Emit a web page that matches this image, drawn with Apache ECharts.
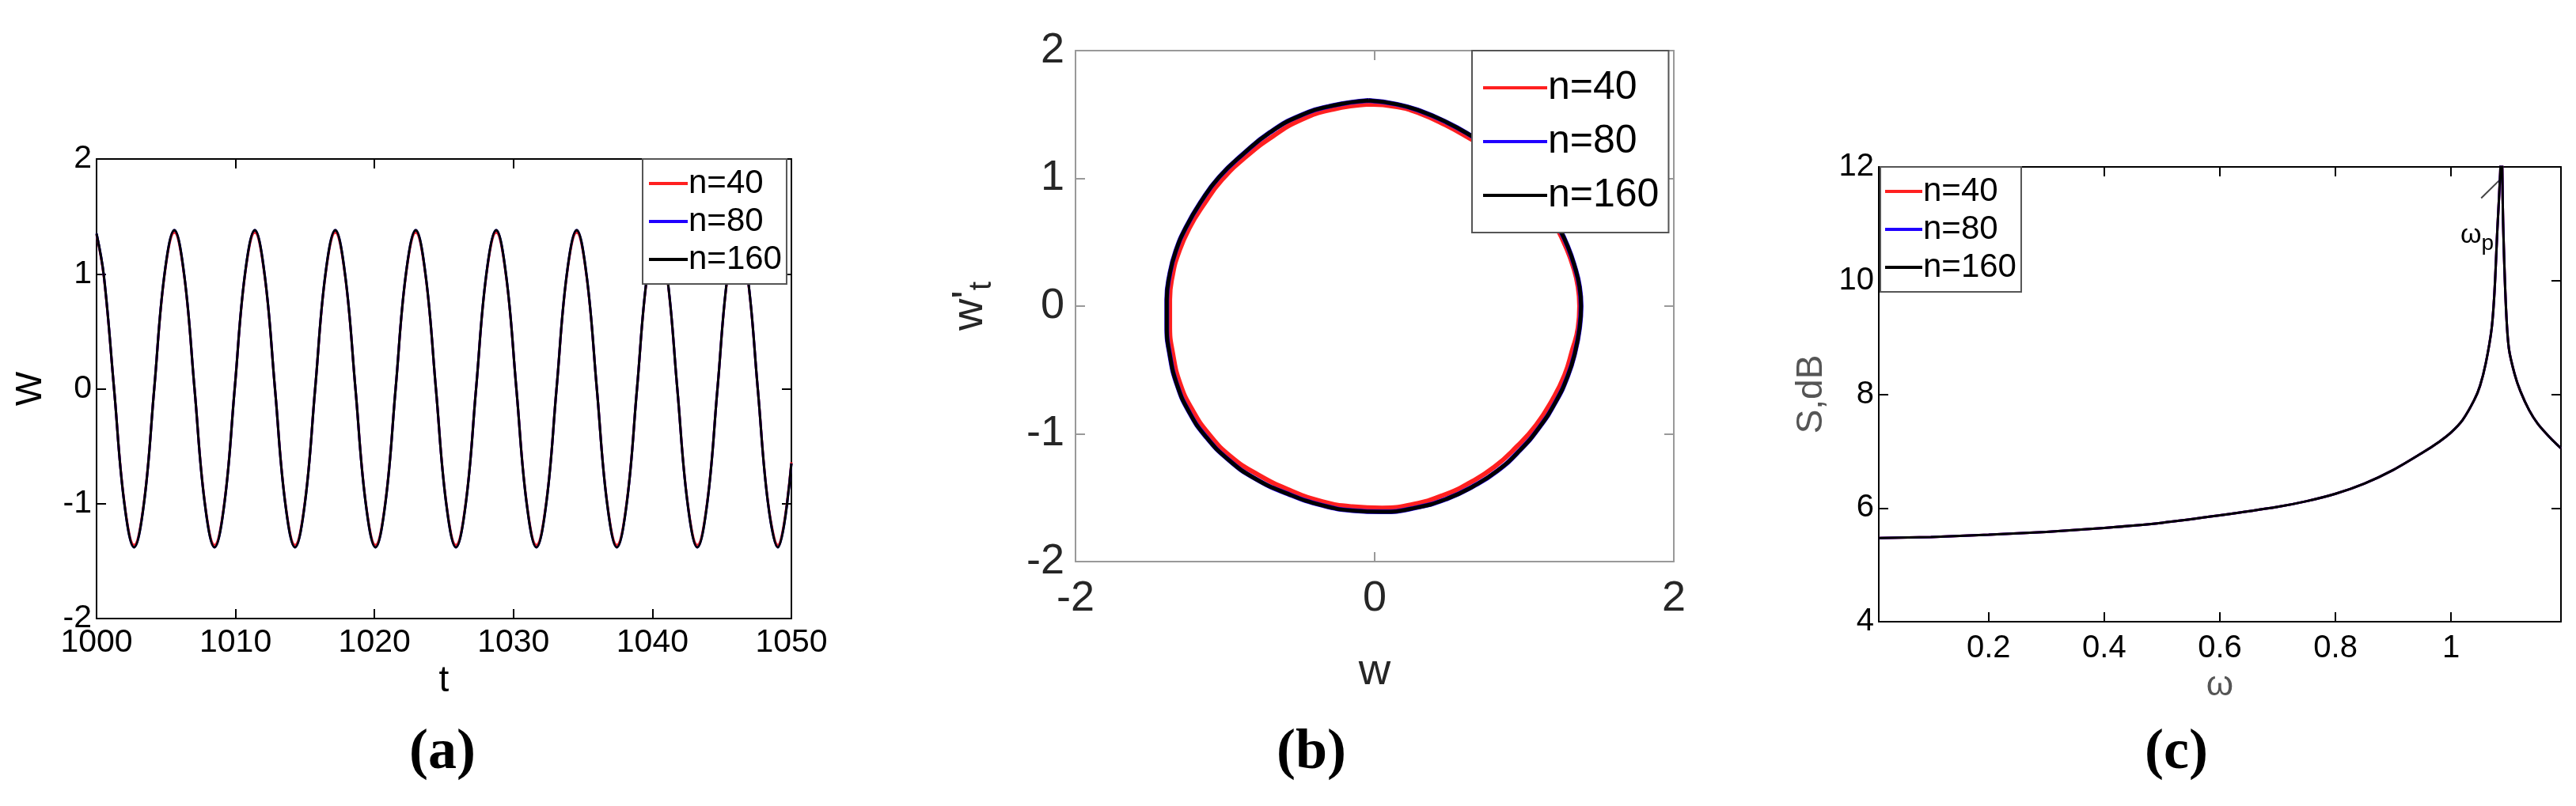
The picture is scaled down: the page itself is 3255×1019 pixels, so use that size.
<!DOCTYPE html>
<html><head><meta charset="utf-8">
<script src="https://cdn.jsdelivr.net/npm/echarts@6/dist/echarts.min.js"></script>
<style>html,body{margin:0;background:#fff}#c{width:3255px;height:1019px}</style>
</head><body><div id="c"></div>
<script>
// ---- Panel (a): time series W(t) ----
const seriesNames = ['n=40','n=80','n=160'];
const seriesColors = ['#ff2020','#2000ff','#000000'];
const aT = [1000,1000.53,1001.26,1001.98,1002.70,1003.43,1004.15,1004.87,1005.60,1006.32,1007.05,1007.77,1008.49,1009.22,1009.94,1010.66,1011.39,1012.11,1012.84,1013.56,1014.28,1015.01,1015.73,1016.45,1017.18,1017.90,1018.63,1019.35,1020.07,1020.80,1021.52,1022.24,1022.97,1023.69,1024.42,1025.14,1025.86,1026.59,1027.31,1028.03,1028.76,1029.48,1030.21,1030.93,1031.65,1032.38,1033.10,1033.82,1034.55,1035.27,1036.00,1036.72,1037.44,1038.17,1038.89,1039.61,1040.34,1041.06,1041.79,1042.51,1043.23,1043.96,1044.68,1045.40,1046.13,1046.85,1047.58,1048.30,1049.02,1050];
const aW = [1.35,0.98,0,-0.98,-1.38,-0.98,0,0.98,1.38,0.98,0,-0.98,-1.38,-0.98,0,0.98,1.38,0.98,0,-0.98,-1.38,-0.98,0,0.98,1.38,0.98,0,-0.98,-1.38,-0.98,0,0.98,1.38,0.98,0,-0.98,-1.38,-0.98,0,0.98,1.38,0.98,0,-0.98,-1.38,-0.98,0,0.98,1.38,0.98,0,-0.98,-1.38,-0.98,0,0.98,1.38,0.98,0,-0.98,-1.38,-0.98,0,0.98,1.38,0.98,0,-0.98,-1.38,-0.65];
const aW40 = [1.34,0.97,0,-0.97,-1.36,-0.97,0,0.97,1.36,0.97,0,-0.97,-1.36,-0.97,0,0.97,1.36,0.97,0,-0.97,-1.36,-0.97,0,0.97,1.36,0.97,0,-0.97,-1.36,-0.97,0,0.97,1.36,0.97,0,-0.97,-1.36,-0.97,0,0.97,1.36,0.97,0,-0.97,-1.36,-0.97,0,0.97,1.36,0.97,0,-0.97,-1.36,-0.97,0,0.97,1.36,0.97,0,-0.97,-1.36,-0.97,0,0.97,1.36,0.97,0,-0.97,-1.36,-0.64];
// ---- Panel (b): phase portrait (w, w't) ----
const bW160 = [-0.04,0.15,0.30,0.48,0.65,0.81,0.96,1.06,1.14,1.22,1.29,1.34,1.37,1.38,1.37,1.34,1.29,1.21,1.10,0.97,0.82,0.66,0.48,0.27,0.05,-0.15,-0.35,-0.58,-0.80,-0.98,-1.13,-1.24,-1.32,-1.37,-1.39,-1.39,-1.37,-1.33,-1.26,-1.16,-1.04,-0.88,-0.70,-0.50,-0.28,-0.04];
const bV160 = [1.61,1.58,1.53,1.44,1.33,1.21,1.07,0.94,0.80,0.64,0.47,0.30,0.15,0,-0.17,-0.36,-0.55,-0.75,-0.95,-1.13,-1.29,-1.41,-1.51,-1.58,-1.61,-1.60,-1.56,-1.47,-1.35,-1.20,-1.02,-0.83,-0.62,-0.38,-0.15,0.05,0.25,0.43,0.62,0.82,1.01,1.19,1.36,1.49,1.57,1.61];
const bW40 = [-0.04,0.15,0.30,0.47,0.64,0.80,0.95,1.05,1.13,1.21,1.28,1.33,1.36,1.37,1.36,1.32,1.27,1.19,1.08,0.95,0.80,0.64,0.46,0.26,0.05,-0.15,-0.35,-0.57,-0.78,-0.96,-1.11,-1.22,-1.30,-1.35,-1.37,-1.37,-1.35,-1.31,-1.24,-1.14,-1.02,-0.86,-0.68,-0.49,-0.28,-0.04];
const bV40 = [1.58,1.56,1.51,1.42,1.31,1.20,1.06,0.93,0.79,0.63,0.46,0.30,0.15,0,-0.17,-0.35,-0.54,-0.73,-0.93,-1.10,-1.26,-1.38,-1.48,-1.55,-1.58,-1.57,-1.53,-1.44,-1.32,-1.18,-1.00,-0.81,-0.61,-0.37,-0.15,0.05,0.25,0.42,0.61,0.80,0.99,1.17,1.33,1.46,1.54,1.58];
// ---- Panel (c): spectrum S(ω), dB ----
const cOmega = [0.01,0.1,0.2,0.3,0.4,0.5,0.6,0.7,0.75,0.8,0.85,0.9,0.95,0.98,1.0,1.02,1.04,1.05,1.06,1.07,1.075,1.08,1.085,1.087,1.09,1.095,1.1,1.11,1.12,1.135,1.15,1.17,1.19];
const cS = [5.47,5.49,5.53,5.58,5.65,5.74,5.87,6.02,6.12,6.25,6.43,6.67,6.97,7.17,7.33,7.55,7.9,8.15,8.55,9.15,9.8,10.9,11.9,12.6,11.0,9.5,8.8,8.35,8.05,7.72,7.48,7.25,7.05];
const cTicksX = [0.2,0.4,0.6,0.8,1];

const F = 'Liberation Sans, Arial, sans-serif';
const chart = echarts.init(document.getElementById('c'), null, {renderer:'canvas'});
const pair = (xs, ys) => xs.map((x,i)=>[x, ys[i]]);

function axes(gi, o) {
  const base = {gridIndex:gi, type:'value', min:o.min, max:o.max, interval:o.interval,
    splitLine:{show:false}, axisLine:{show:true, onZero:false, lineStyle:{color:o.lc, width:2}},
    axisTick:{inside:true, length:12, lineStyle:{color:o.lc, width:2}}};
  if (o.custom) { base.axisTick.customValues = o.custom; }
  return base;
}
const plain = v => String(v);
const xAxes = [], yAxes = [];
// a
xAxes.push(Object.assign(axes(0,{min:1000,max:1050,interval:10,lc:'#000'}),{position:'bottom',
  axisLabel:{fontFamily:F,fontSize:41,color:'#000',margin:10,formatter:plain}, name:'t', nameLocation:'middle', nameGap:52,
  nameTextStyle:{fontFamily:F,fontSize:46,color:'#000'}}));
xAxes.push(Object.assign(axes(0,{min:1000,max:1050,interval:10,lc:'#000'}),{position:'top',axisLabel:{show:false}}));
yAxes.push(Object.assign(axes(0,{min:-2,max:2,interval:1,lc:'#000'}),{position:'left',
  axisLabel:{fontFamily:F,fontSize:41,color:'#000',margin:6}, name:'W', nameLocation:'middle', nameGap:60,
  nameTextStyle:{fontFamily:F,fontSize:46,color:'#000'}}));
yAxes.push(Object.assign(axes(0,{min:-2,max:2,interval:1,lc:'#000'}),{position:'right',axisLabel:{show:false}}));
// b
xAxes.push(Object.assign(axes(1,{min:-2,max:2,interval:2,lc:'#999'}),{position:'bottom',
  axisLabel:{fontFamily:F,fontSize:54,color:'#262626',margin:20}, name:'w', nameLocation:'middle', nameGap:112,
  nameTextStyle:{fontFamily:F,fontSize:56,color:'#262626'}}));
xAxes.push(Object.assign(axes(1,{min:-2,max:2,interval:2,lc:'#999'}),{position:'top',axisLabel:{show:false}}));
yAxes.push(Object.assign(axes(1,{min:-2,max:2,interval:1,lc:'#999'}),{position:'left',
  axisLabel:{fontFamily:F,fontSize:54,color:'#262626',margin:14}, name:"{a|w'}{s|t}", nameLocation:'middle', nameGap:105,
  nameTextStyle:{fontFamily:F,fontSize:56,color:'#262626',rich:{a:{fontFamily:F,fontSize:56,color:'#262626'},s:{fontFamily:F,fontSize:40,color:'#262626',padding:[0,0,-30,0]}}}}));
yAxes.push(Object.assign(axes(1,{min:-2,max:2,interval:1,lc:'#999'}),{position:'right',axisLabel:{show:false}}));
// c
xAxes.push(Object.assign(axes(2,{min:0.01,max:1.19,lc:'#000',custom:cTicksX}),{position:'bottom',
  axisLabel:{fontFamily:F,fontSize:40,color:'#000',margin:14,customValues:cTicksX}, name:'ω', nameLocation:'middle', nameGap:52,
  nameTextStyle:{fontFamily:F,fontSize:44,color:'#555'}}));
xAxes.push(Object.assign(axes(2,{min:0.01,max:1.19,lc:'#000',custom:cTicksX}),{position:'top',axisLabel:{show:false}}));
yAxes.push(Object.assign(axes(2,{min:4,max:12,interval:2,lc:'#000'}),{position:'left',
  axisLabel:{fontFamily:F,fontSize:40,color:'#000',margin:6}, name:'S,dB', nameLocation:'middle', nameGap:62,
  nameTextStyle:{fontFamily:F,fontSize:46,color:'#555'}}));
yAxes.push(Object.assign(axes(2,{min:4,max:12,interval:2,lc:'#000'}),{position:'right',axisLabel:{show:false}}));

const series = [];
const aData = [aW40, aW, aW];
const bData = [[bW40,bV40],[bW160,bV160],[bW160,bV160]];
seriesNames.forEach((nm,i)=>{
  series.push({name:nm, type:'line', xAxisIndex:0, yAxisIndex:0, data:pair(aT,aData[i]), smooth:0.4, showSymbol:false,
    lineStyle:{color:seriesColors[i], width:3}, itemStyle:{color:seriesColors[i]}});
  series.push({name:nm, type:'line', xAxisIndex:2, yAxisIndex:2, data:pair(bData[i][0],bData[i][1]), smooth:0.5, showSymbol:false,
    lineStyle:{color:seriesColors[i], width:i==2?5:6}, itemStyle:{color:seriesColors[i]}});
  series.push({name:nm, type:'line', xAxisIndex:4, yAxisIndex:4, data:pair(cOmega,cS), smooth:0.3, showSymbol:false, clip:true,
    lineStyle:{color:seriesColors[i], width:3}, itemStyle:{color:seriesColors[i]}});
});

function legend(left, top, fs, gap, iw, pad) {
  return {orient:'vertical', left, top, data:seriesNames, itemWidth:iw, itemHeight:4, itemGap:gap,
    icon:'rect', backgroundColor:'#fff', borderColor:'#555', borderWidth:2, borderRadius:0, padding:pad,
    textStyle:{fontFamily:F, fontSize:fs, color:'#000', padding:[0,0,0,-4]}};
}
chart.setOption({
  animation:false,
  grid:[{left:122,top:201,width:878,height:581},{left:1359,top:64,width:756,height:646},{left:2374,top:211,width:862,height:575}],
  xAxis:xAxes, yAxis:yAxes, series,
  legend:[legend(812,201,42,6,49,[10,6,10,8]), legend(1860,64,50,18,81,[22,12,22,14]), legend(2376,211,42,6,47,[10,6,10,6])]
});
const p1 = chart.convertToPixel({gridIndex:2}, [1.087, 11.8]);
const p2 = chart.convertToPixel({gridIndex:2}, [1.052, 11.45]);
const p3 = chart.convertToPixel({gridIndex:2}, [1.045, 10.8]);
const cap = {fontFamily:'Liberation Serif, DejaVu Serif, serif', fontSize:72, fontWeight:'bold', fill:'#000', textAlign:'center', textVerticalAlign:'middle'};
chart.setOption({graphic:[
  {type:'line', shape:{x1:p2[0],y1:p2[1],x2:p1[0],y2:p1[1]}, style:{stroke:'#444',lineWidth:2}},
  {type:'text', x:p3[0], y:p3[1], style:{text:'{w|ω}{p|p}', textAlign:'center', textVerticalAlign:'middle', rich:{w:{fontFamily:F,fontSize:34,fill:'#000'},p:{fontFamily:F,fontSize:28,fill:'#000',padding:[0,0,-22,0]}}}},
  {type:'text', x:559, y:952, style:Object.assign({text:'(a)'},cap)},
  {type:'text', x:1657, y:952, style:Object.assign({text:'(b)'},cap)},
  {type:'text', x:2750, y:952, style:Object.assign({text:'(c)'},cap)}
]});
</script></body></html>
